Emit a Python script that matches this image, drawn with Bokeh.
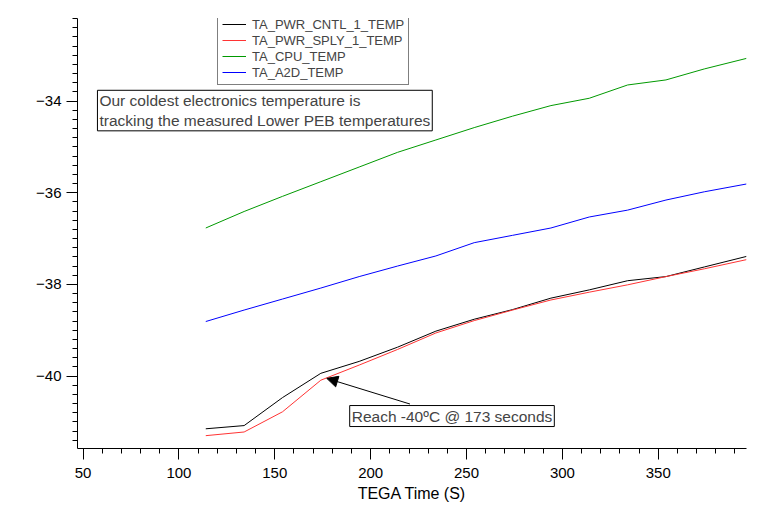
from bokeh.plotting import figure
from bokeh.models import (SingleIntervalTicker, Range1d, Legend, LegendItem, Label,
                          Arrow, NormalHead)
from bokeh.embed import file_html
from bokeh.resources import INLINE

# ---- data ----
time_s = [114, 134, 154, 174, 194, 214, 234, 254, 274, 294, 314, 334, 354, 374, 396]
pwr_cntl = [-41.15, -41.08, -40.47, -39.94, -39.68, -39.37, -39.02, -38.76, -38.55,
            -38.30, -38.12, -37.92, -37.83, -37.62, -37.39]
pwr_sply = [-41.30, -41.22, -40.78, -40.09, -39.76, -39.42, -39.06, -38.79, -38.56,
            -38.34, -38.17, -38.01, -37.83, -37.66, -37.46]
cpu = [-36.77, -36.41, -36.08, -35.76, -35.44, -35.12, -34.85, -34.58, -34.33,
       -34.10, -33.94, -33.65, -33.54, -33.30, -33.07]
a2d = [-38.81, -38.56, -38.32, -38.08, -37.83, -37.60, -37.38, -37.09, -36.93,
       -36.77, -36.53, -36.38, -36.16, -35.98, -35.81]
series_names = ["TA_PWR_CNTL_1_TEMP", "TA_PWR_SPLY_1_TEMP", "TA_CPU_TEMP", "TA_A2D_TEMP"]
series_colors = ["#000000", "#ff3333", "#009900", "#0000ff"]
note_text = "Our coldest electronics temperature is\ntracking the measured Lower PEB temperatures"
reach_text = "Reach -40\u00baC @ 173 seconds"
x_title = "TEGA Time (S)"

FONT = "Liberation Sans"

p = figure(width=784, height=506, output_backend="svg", toolbar_location=None,
           x_range=Range1d(47.1, 396), y_range=Range1d(-41.58, -32.2),
           min_border_left=77, min_border_right=38, min_border_top=18,
           min_border_bottom=58)
p.background_fill_color = "white"
p.border_fill_color = "white"
p.outline_line_color = None
p.xgrid.visible = False
p.ygrid.visible = False

renderers = []
for ys, c in zip([pwr_cntl, pwr_sply, cpu, a2d], series_colors):
    renderers.append(p.line(time_s, ys, line_color=c, line_width=1))

# axes
p.xaxis.ticker = SingleIntervalTicker(interval=50, num_minor_ticks=5)
p.yaxis.ticker = SingleIntervalTicker(interval=2, num_minor_ticks=10)
for ax in (p.xaxis[0], p.yaxis[0]):
    ax.axis_line_color = "black"
    ax.major_tick_line_color = "black"
    ax.minor_tick_line_color = "black"
    ax.major_tick_in = 0
    ax.minor_tick_in = 0
    ax.major_tick_out = 11
    ax.minor_tick_out = 5
    ax.major_label_text_font = FONT
    ax.major_label_text_font_size = "15px"
    ax.major_label_text_color = "black"
p.xaxis.major_label_standoff = 8
p.yaxis.major_label_standoff = 5
p.xaxis.axis_label = x_title
p.xaxis.axis_label_text_font = FONT
p.xaxis.axis_label_text_font_size = "16px"
p.xaxis.axis_label_text_font_style = "normal"
p.xaxis.axis_label_text_color = "black"
p.xaxis.axis_label_standoff = 4

# legend
items = [LegendItem(label=n, renderers=[r]) for n, r in zip(series_names, renderers)]
legend = Legend(items=items, location=(140, 363), padding=4, margin=0, spacing=0,
                label_height=16, glyph_height=16, glyph_width=24, label_standoff=6,
                label_text_font=FONT, label_text_font_size="13px",
                border_line_color="black", border_line_width=1,
                background_fill_color="white", background_fill_alpha=1)
p.add_layout(legend)

# note box
note = Label(x=57.5, y=-33.766, text=note_text, text_font=FONT, text_font_size="15.5px",
             text_align="left", text_baseline="top", text_line_height=1.15,
             border_line_color="black", border_line_width=1,
             background_fill_color="white", padding=2)
p.add_layout(note)

# arrow and reach label
p.add_layout(Arrow(x_start=220.5, y_start=-40.61, x_end=177.1, y_end=-40.05,
                   line_color="black", line_width=1,
                   end=NormalHead(size=11, fill_color="black", line_color="black")))
reach = Label(x=189.06, y=-40.643, text=reach_text, text_font=FONT, text_font_size="15.5px",
              text_align="left", text_baseline="top",
              border_line_color="black", border_line_width=1,
              background_fill_color="white", padding=2)
p.add_layout(reach)

open("out.html", "w").write(file_html(p, INLINE))
